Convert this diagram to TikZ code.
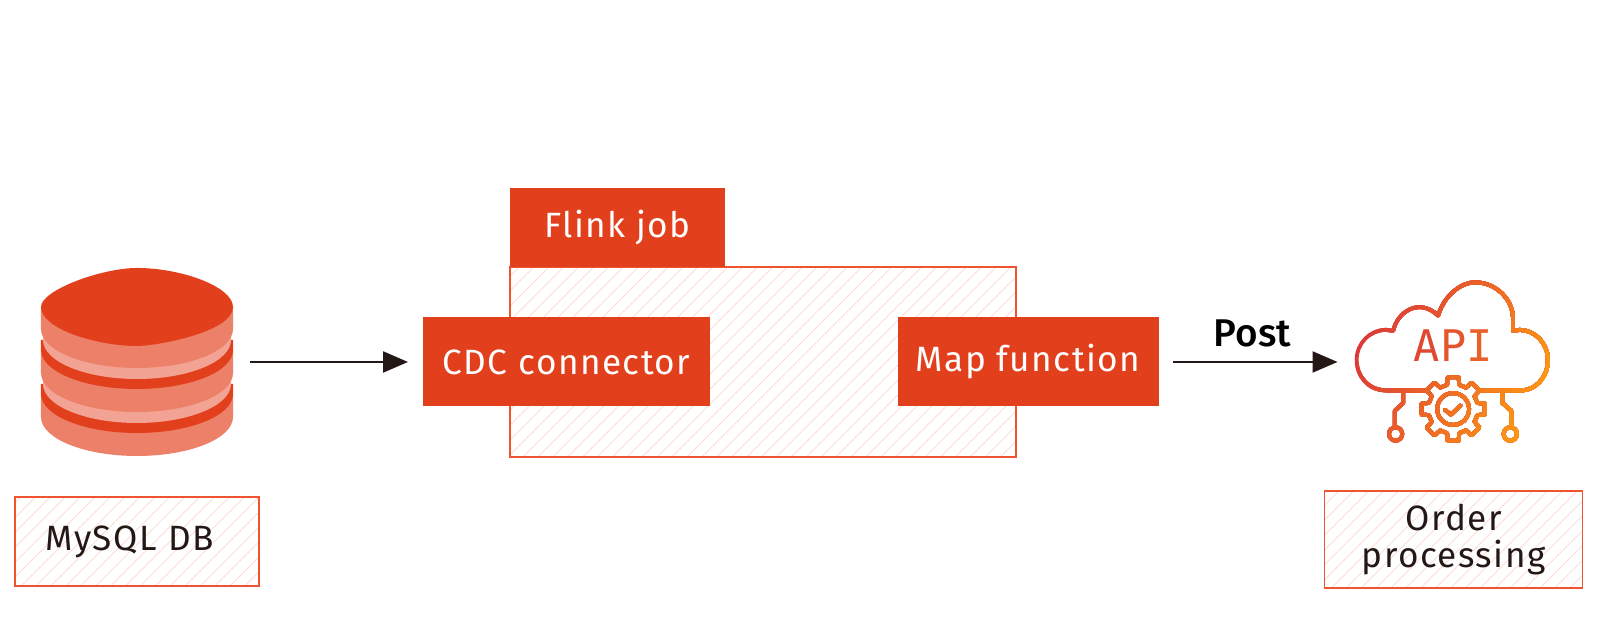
\documentclass[tikz,border=0pt]{standalone}
\usepackage{fontspec}
\usepackage{xcolor}
\usepackage{tikz}
\usetikzlibrary{positioning, arrows.meta, patterns.meta}
\setmainfont{Fira Sans}
\newfontfamily\boxfont{Fira Sans}[LetterSpace=4.2]
\newfontfamily\postfont{Fira Sans Medium}
\newfontfamily\apifont{DejaVu Sans Mono}
\definecolor{flinkred}{HTML}{E2401C}
\definecolor{edgered}{HTML}{EF5330}
\definecolor{hatchpink}{HTML}{FBD8CE}
\definecolor{inkdark}{HTML}{231815}
\definecolor{dbsalmon}{HTML}{ED8068}
\definecolor{dblight}{HTML}{F3A393}
\definecolor{iconred}{HTML}{DB3A38}
\definecolor{iconorange}{HTML}{FF9A12}

\newcommand{\apioutline}{%
    % cloud
    \draw (235,347) -- (110,347) .. controls (55,347) and (20,305) .. (20,255)
        .. controls (20,205) and (60,165) .. (108,165) -- (130,168)
        .. controls (140,115) and (205,65) .. (265,122)
        .. controls (285,55) and (340,22) .. (375,22)
        .. controls (440,22) and (490,75) .. (490,130) -- (490,168) -- (510,165)
        .. controls (555,165) and (595,205) .. (595,255)
        .. controls (595,305) and (560,347) .. (515,347) -- (385,347);
    % gear
    \draw[shift={(310,403)}] (-14:75) \foreach \a in {0,45,...,315}{ -- (\a-14:75) -- (\a-10:97) -- (\a+10:97) -- (\a+14:75) } -- cycle;
    \draw (310,403) circle (48);
    \draw (285,405) -- (303,420) -- (333,392);
    % circuit legs
    \draw (160,347) -- (160,385) -- (135,408) -- (135,458);
    \draw (137,478) circle (20);
    \draw (458,347) -- (458,385) -- (485,408) -- (485,458);
    \draw (482,478) circle (20);
}

\begin{document}
\begin{tikzpicture}[node distance=1.9cm, >={Triangle[length=0.25cm, width=0.21cm]}]
    \tikzstyle{block} = [rectangle, fill=flinkred, text=white, font=\boxfont\fontsize{10}{11}\selectfont, minimum height=0.89cm, outer sep=0pt, inner sep=0pt, align=center]
    \tikzstyle{hatched} = [rectangle, draw=edgered, line width=0.5pt, pattern={Lines[angle=45, distance=3pt, line width=0.2pt]}, pattern color=hatchpink, outer sep=0pt, inner sep=0pt]
    \tikzstyle{caption} = [hatched, text=inkdark, font=\boxfont\fontsize{10}{10.3}\selectfont, align=center]
    \tikzstyle{link} = [->, color=inkdark, line width=0.6pt]

    \useasboundingbox (0,0) rectangle (16,6.22);

    \node[minimum width=1.92cm, minimum height=1.88cm, inner sep=0pt, outer sep=0pt] (mysql) at (1.37,2.60) {};
    \node[hatched, minimum width=5.06cm, minimum height=1.90cm] (job) at (7.63,2.60) {};
    \node[block, minimum width=2.15cm, minimum height=0.79cm, anchor=south west] (flink) at (job.north west) {Flink job};
    \node[block, minimum width=2.87cm, right=of mysql] (cdc) {CDC connector};
    \node[block, minimum width=2.61cm, right=1.875cm of cdc] (mapfn) {Map function};
    \node[minimum width=1.92cm, minimum height=1.60cm, inner sep=0pt, outer sep=0pt, right=1.99cm of mapfn] (api) {};

    \node[caption, minimum width=2.445cm, minimum height=0.89cm, text width=1.835cm, inner xsep=0.305cm, below=0.41cm of mysql, align=left] (dblabel) {MySQL DB};
    \node[caption, minimum width=2.58cm, minimum height=0.97cm, text width=2.4cm, below=0.49cm of api] (orderlabel) {Order\\processing};

    % database
    \begin{scope}[shift={(mysql.center)}]
        \foreach \up/\low/\col/\w in {-.32/-.55/dbsalmon/.96, -.22/-.32/flinkred/.96, -.11/-.22/dblight/.94, .12/-.11/dbsalmon/.96, .22/.12/flinkred/.96, .33/.22/dblight/.94, .55/.33/dbsalmon/.96}
            \fill[\col] (-\w,\up) -- (-\w,\low) arc[start angle=180, end angle=360, x radius=\w, y radius=.39] -- (\w,\up) -- cycle;
        \fill[flinkred] (-.96,.55) .. controls (-.96,.72) and (-.35,.94) .. (0,.94) .. controls (.45,.94) and (.96,.75) .. (.96,.55) .. controls (.96,.30) and (.2,.16) .. (0,.16) .. controls (-.4,.16) and (-.96,.33) .. (-.96,.55) -- cycle;
    \end{scope}

    % api icon, colour runs across it
    \begin{scope}[shift={(13.50,3.47)}, x=0.003333cm, y=-0.003333cm, line width=1.1pt, line join=round, line cap=round]
        \foreach \i in {0,...,24} {
            \pgfmathsetmacro{\cut}{130+25*\i}
            \pgfmathtruncatemacro{\mixval}{4*\i}
            \colorlet{stripcol}{iconorange!\mixval!iconred}
            \begin{scope}
                \clip (\cut+10,-20) -- (700,-20) -- (700,520) -- (\cut-260,520) -- cycle;
                \begin{scope}[color=stripcol]
                    \apioutline
                \end{scope}
            \end{scope}
        }
        \node[font=\apifont\fontsize{12.4}{13}\selectfont, inner sep=0pt] (apitext) at (310,212) {\textcolor{iconred!85!iconorange}{A}\textcolor{iconred!72!iconorange}{P}\textcolor{iconred!60!iconorange}{I}};
    \end{scope}

    \draw[link, shorten <=0.17cm, shorten >=0.15cm] (mysql) -- (cdc);
    \draw[link, shorten <=0.147cm, shorten >=0.20cm] (mapfn) -- node[above=0.02cm, xshift=-0.055cm, text=black, font=\postfont\fontsize{11}{12}\selectfont] (post) {Post} (api);
\end{tikzpicture}
\end{document}
